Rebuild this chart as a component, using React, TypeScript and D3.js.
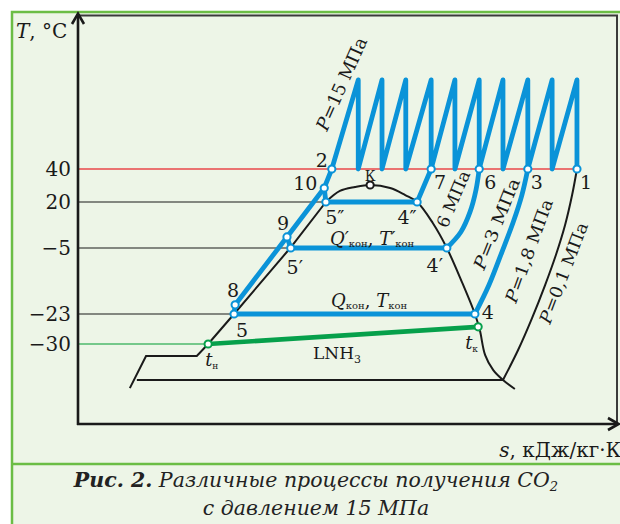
import React from "react";
import * as d3 from "d3";

// ---- Data: schematic T–s diagram (s in arbitrary units, T in °C) ----
const tempTicks = [40, 20, -5, -23, -30];

const pointIds = ["2", "10", "9", "8", "5", "5′", "5″", "4″", "4′", "4", "7", "6", "3", "1"];
const pointS = [4.7, 4.56, 3.87, 2.91, 2.89, 3.94, 4.59, 6.28, 6.83, 7.35, 6.54, 7.43, 8.33, 9.24];
const pointT = [40, 28.5, 1.0, -20.5, -23, -5, 20, 20, -5, -23, 40, 40, 40, 40];

const compressionPath = ["5", "8", "9", "10", "2"];
const connectors = [["5′", "9"], ["5″", "10"]];
const condensers = [["5", "4"], ["5′", "4′"], ["5″", "4″"]];

// multistage compression zig-zag (top temperature of each stage)
const zigzagS = [5.19, 5.63, 6.07, 6.54, 6.98, 7.43, 7.87, 8.33, 8.78, 9.24];
const zigzagTopT = 94;

// isobars
const iso6aS = [6.54, 6.28];
const iso6aT = [40, 20];
const iso6S = [7.43, 7.37, 7.26, 7.09, 6.83];
const iso6T = [40, 27.3, 14.6, 3.7, -5];
const iso3S = [8.33, 8.22, 8.06, 7.85, 7.61, 7.35];
const iso3T = [40, 24.2, 9.1, -6.1, -15.1, -23];
const iso01S = [9.24, 9.15, 9.02, 8.85, 8.65, 8.41, 8.15, 7.87];
const iso01T = [40, 24.2, 7.5, -6.9, -15.1, -23.9, -31.4, -38.4];

// saturation curve (liquid branch straight part, then the dome)
const liquidS = [0.96, 1.26, 2.2, 2.41, 2.89, 3.93, 4.59];
const liquidT = [-40.3, -32.8, -32.8, -30, -23, -5, 20];
const domeS = [4.59, 4.85, 5.13, 5.41, 5.78, 6.06, 6.28, 6.57, 6.83, 7.11, 7.35, 7.44, 7.54, 7.69, 7.87, 8.09];
const domeT = [20, 26.7, 29.1, 30.3, 28.5, 24.2, 20, 8.6, -5, -14.3, -23, -26.7, -32.6, -36.1, -38.4, -40.5];
const baseS = [1.09, 7.87];
const baseT = [-38.4, -38.4];

// ammonia coolant line
const nh3S = [2.41, 7.41];
const nh3T = [-30, -26];
const criticalS = 5.41;
const criticalT = 30.3;

const BLUE = "#0a93d8";
const GREEN = "#6bbd45";
const BG = "#edf5e7";
const SERIF = "'DejaVu Serif', serif";

export default function App() {
  const x = d3.scaleLinear().domain([0, 10]).range([78, 618]);
  const y = d3.scaleLinear().domain([-30, -23, -5, 20, 40]).range([344, 314, 248, 202, 169]);
  const line = d3.line<[number, number]>().x((d) => x(d[0])).y((d) => y(d[1]));
  const curve = d3
    .line<[number, number]>()
    .x((d) => x(d[0]))
    .y((d) => y(d[1]))
    .curve(d3.curveCatmullRom);
  const zip = (s: number[], t: number[]) => s.map((v, i) => [v, t[i]] as [number, number]);
  const P = (id: string): [number, number] => {
    const i = pointIds.indexOf(id);
    return [pointS[i], pointT[i]];
  };
  const px = (id: string) => x(P(id)[0]);
  const py = (id: string) => y(P(id)[1]);

  const zig: [number, number][] = [P("2")];
  zigzagS.forEach((s) => {
    zig.push([s, zigzagTopT]);
    zig.push([s, 40]);
  });

  const labelOff: Record<string, [number, number]> = {
    "2": [-10, -2],
    "10": [-19, 2],
    "9": [-4, -7],
    "8": [-2, -8],
    "5": [8, 23],
    "5′": [4, 26],
    "5″": [9, 22],
    "4″": [-10, 22],
    "4′": [-12, 24],
    "4": [13, 5],
    "7": [9, 20],
    "6": [11, 20],
    "3": [9, 20],
    "1": [9, 20],
  };

  const sub = { fontSize: 11, fontStyle: "normal" as const };

  return (
    <svg width={620} height={524} style={{ position: "absolute", left: 0, top: 0 }} fontFamily={SERIF}>
      <rect x={0} y={0} width={620} height={524} fill="#ffffff" />
      <rect x={12} y={12} width={640} height={540} fill={BG} stroke={GREEN} strokeWidth={2.5} />
      <line x1={12} x2={620} y1={464} y2={464} stroke={GREEN} strokeWidth={2.5} />

      {/* frame */}
      <path d={`M78,15.5H617V424`} fill="none" stroke="#3a3a3a" strokeWidth={2} />

      {/* reference temperature lines */}
      <line x1={78} x2={px("1")} y1={y(40)} y2={y(40)} stroke="#e8474a" strokeWidth={1.6} />
      <line x1={78} x2={px("5″")} y1={y(20)} y2={y(20)} stroke="#1a1a1a" strokeWidth={1.2} />
      <line x1={78} x2={px("5′")} y1={y(-5)} y2={y(-5)} stroke="#1a1a1a" strokeWidth={1.2} />
      <line x1={78} x2={px("5")} y1={y(-23)} y2={y(-23)} stroke="#1a1a1a" strokeWidth={1.2} />
      <line x1={78} x2={x(nh3S[0])} y1={y(-30)} y2={y(-30)} stroke="#4cb86c" strokeWidth={1.6} />

      {/* black curves */}
      <g fill="none" stroke="#1a1a1a" strokeWidth={2}>
        <path d={line(zip(liquidS, liquidT))!} />
        <path d={curve(zip(domeS, domeT))!} />
        <path d={line(zip(baseS, baseT))!} />
        <path d={curve(zip(iso01S, iso01T))!} />
      </g>

      {/* ammonia line */}
      <path d={line(zip(nh3S, nh3T))!} stroke="#06a04b" strokeWidth={4.6} fill="none" />

      {/* blue process lines */}
      <g fill="none" stroke={BLUE} strokeWidth={4.8} strokeLinejoin="round" strokeLinecap="round">
        <path d={line(zig)!} />
        <path d={line(compressionPath.map(P))!} />
        {connectors.map((c, i) => (
          <path key={"c" + i} d={line(c.map(P))!} />
        ))}
        {condensers.map((c, i) => (
          <path key={"h" + i} d={line(c.map(P))!} />
        ))}
        <path d={line(zip(iso6aS, iso6aT))!} />
        <path d={curve(zip(iso6S, iso6T))!} />
        <path d={curve(zip(iso3S, iso3T))!} />
      </g>

      {/* axes */}
      <g fill="none" stroke="#1a1a1a" strokeWidth={2.6}>
        <line x1={78} x2={78} y1={425} y2={14} />
        <path d="M72,24L78,13.5L84,24" />
        <line x1={77} x2={618} y1={424} y2={424} />
        <path d="M608,418L618.5,424L608,430" />
      </g>

      {/* points */}
      {pointIds.map((id) => (
        <circle key={id} cx={px(id)} cy={py(id)} r={3.6} fill="#fff" stroke={BLUE} strokeWidth={2} />
      ))}
      <circle cx={x(nh3S[0])} cy={y(nh3T[0])} r={3.6} fill="#fff" stroke="#06a04b" strokeWidth={2} />
      <circle cx={x(nh3S[1])} cy={y(nh3T[1])} r={3.6} fill="#fff" stroke="#06a04b" strokeWidth={2} />
      <circle cx={x(criticalS)} cy={y(criticalT)} r={3.6} fill="#fff" stroke="#1a1a1a" strokeWidth={2} />

      {/* tick labels */}
      {tempTicks.map((t) => (
        <text key={t} x={71} y={y(t) + 7} textAnchor="end" fontSize={20} fill="#1a1a1a">
          {t < 0 ? "−" + Math.abs(t) : t}
        </text>
      ))}

      {/* axis titles */}
      <text x={16} y={38} fontSize={20} fill="#1a1a1a">
        <tspan fontStyle="italic">T</tspan>, °C
      </text>
      <text x={621} y={457} fontSize={20} textAnchor="end" fill="#1a1a1a">
        <tspan fontStyle="italic">s</tspan>, кДж/кг·К
      </text>

      {/* point labels */}
      {pointIds.map((id) => (
        <text
          key={"l" + id}
          x={px(id) + labelOff[id][0]}
          y={py(id) + labelOff[id][1]}
          textAnchor="middle"
          fontSize={19}
          fill="#1a1a1a"
        >
          {id}
        </text>
      ))}
      <text x={x(criticalS)} y={y(criticalT) - 4} textAnchor="middle" fontSize={14} fill="#1a1a1a">
        К
      </text>
      <text x={x(nh3S[0]) - 3} y={y(nh3T[0]) + 22} fontSize={18} fill="#1a1a1a">
        <tspan fontStyle="italic">t</tspan>
        <tspan {...sub} fontSize={9} dy={3}>н</tspan>
      </text>
      <text x={x(nh3S[1]) - 13} y={y(nh3T[1]) + 22} fontSize={18} fill="#1a1a1a">
        <tspan fontStyle="italic">t</tspan>
        <tspan {...sub} fontSize={9} dy={3}>к</tspan>
      </text>
      <text x={313} y={359} fontSize={17} fill="#1a1a1a">
        LNH<tspan fontSize={11} dy={4}>3</tspan>
      </text>

      <text x={330} y={245} fontSize={18} fill="#1a1a1a">
        <tspan fontStyle="italic">Q′</tspan>
        <tspan fontSize={10} dy={2}>кон</tspan>
        <tspan dy={-2}>, </tspan>
        <tspan fontStyle="italic">T′</tspan>
        <tspan fontSize={10} dy={2}>кон</tspan>
      </text>
      <text x={331} y={307} fontSize={18} fill="#1a1a1a">
        <tspan fontStyle="italic">Q</tspan>
        <tspan fontSize={10} dy={2}>кон</tspan>
        <tspan dy={-2}>, </tspan>
        <tspan fontStyle="italic">T</tspan>
        <tspan fontSize={10} dy={2}>кон</tspan>
      </text>

      {/* rotated isobar labels */}
      <text transform="translate(327,132) rotate(-66)" fontSize={18} fill="#1a1a1a" textLength={100} lengthAdjust="spacingAndGlyphs">
        <tspan fontStyle="italic">P</tspan>=15 МПа
      </text>
      <text transform="translate(447,229) rotate(-67)" fontSize={17} fill="#1a1a1a" textLength={60} lengthAdjust="spacingAndGlyphs">
        6 МПа
      </text>
      <text transform="translate(484,271) rotate(-68)" fontSize={17} fill="#1a1a1a" textLength={97} lengthAdjust="spacingAndGlyphs">
        <tspan fontStyle="italic">P</tspan>=3 МПа
      </text>
      <text transform="translate(516,304) rotate(-70)" fontSize={17} fill="#1a1a1a" textLength={109} lengthAdjust="spacingAndGlyphs">
        <tspan fontStyle="italic">P</tspan>=1,8 МПа
      </text>
      <text transform="translate(550,325) rotate(-69)" fontSize={17} fill="#1a1a1a" textLength={107} lengthAdjust="spacingAndGlyphs">
        <tspan fontStyle="italic">P</tspan>=0,1 МПа
      </text>

      {/* caption */}
      <text x={316} y={487} fontSize={20.5} fontStyle="italic" fill="#222" textAnchor="middle">
        <tspan fontWeight="bold">Рис. 2.</tspan> Различные процессы получения CO
        <tspan fontSize={13} dy={4}>2</tspan>
      </text>
      <text x={316} y={515} fontSize={20.5} fontStyle="italic" fill="#222" textAnchor="middle">
        с давлением 15 МПа
      </text>
    </svg>
  );
}
